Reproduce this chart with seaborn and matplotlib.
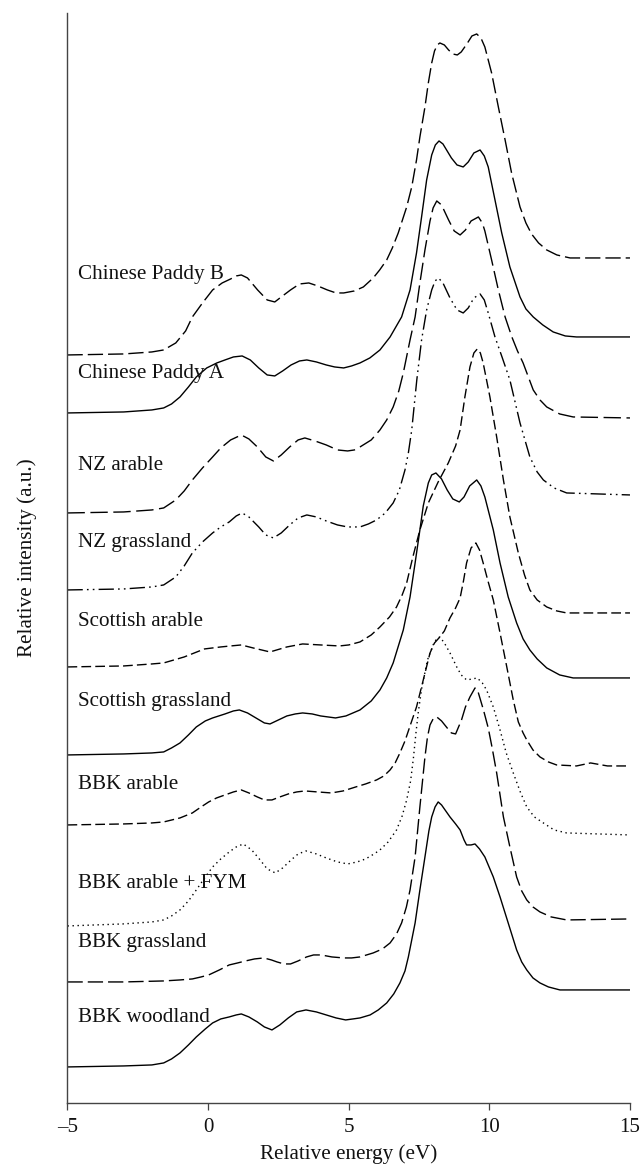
import matplotlib
matplotlib.use("Agg")
import matplotlib.pyplot as plt
import seaborn as sns

# ---------------- data ----------------
samples = ["Chinese Paddy B", "Chinese Paddy A", "NZ arable", "NZ grassland",
           "Scottish arable", "Scottish grassland", "BBK arable",
           "BBK arable + FYM", "BBK grassland", "BBK woodland"]

# label vertical positions (a.u.)
label_y = [8.28, 7.29, 6.37, 5.60, 4.81, 4.01, 3.18, 2.19, 1.60, 0.85]

# each spectrum: (relative energy eV, stacked relative intensity a.u.)
chinese_paddy_b = [
    (-5, 7.48), (-3, 7.49), (-2, 7.51), (-1.58, 7.53), (-1.15, 7.60), (-0.8, 7.72), (-0.56, 7.86),
    (-0.2, 8.00), (0.16, 8.13), (0.5, 8.20), (0.8, 8.24), (1.0, 8.27), (1.18, 8.28), (1.4, 8.25),
    (1.76, 8.13), (2.1, 8.03), (2.37, 8.01), (2.6, 8.06), (2.93, 8.13), (3.25, 8.19), (3.58, 8.20),
    (3.9, 8.17), (4.24, 8.13), (4.55, 8.10), (4.82, 8.10), (5.2, 8.12), (5.52, 8.16), (5.87, 8.25),
    (6.1, 8.33), (6.35, 8.43), (6.55, 8.55), (6.76, 8.70), (7.06, 8.96), (7.24, 9.16), (7.41, 9.43),
    (7.53, 9.66), (7.71, 9.96), (7.83, 10.20), (7.95, 10.40), (8.05, 10.52), (8.15, 10.58),
    (8.24, 10.60), (8.4, 10.58), (8.55, 10.53), (8.7, 10.49), (8.86, 10.48), (9.0, 10.51),
    (9.2, 10.59), (9.38, 10.67), (9.55, 10.69), (9.7, 10.65), (9.84, 10.56), (10.08, 10.30),
    (10.32, 9.96), (10.56, 9.63), (10.79, 9.30), (11.09, 8.96), (11.3, 8.80), (11.5, 8.69),
    (11.75, 8.60), (12.04, 8.53), (12.4, 8.48), (12.87, 8.45), (15, 8.45)]

chinese_paddy_a = [
    (-5, 6.90), (-3, 6.91), (-2, 6.93), (-1.58, 6.95), (-1.3, 6.99), (-1.0, 7.06), (-0.7, 7.16),
    (-0.42, 7.26), (-0.05, 7.35), (0.31, 7.40), (0.6, 7.43), (0.9, 7.46), (1.21, 7.47), (1.5, 7.43),
    (1.8, 7.35), (2.1, 7.28), (2.37, 7.27), (2.65, 7.32), (2.95, 7.38), (3.25, 7.42), (3.51, 7.43),
    (3.85, 7.41), (4.2, 7.38), (4.5, 7.36), (4.82, 7.35), (5.1, 7.37), (5.40, 7.40), (5.75, 7.45),
    (6.11, 7.53), (6.47, 7.66), (6.88, 7.86), (7.18, 8.13), (7.41, 8.50), (7.59, 8.86), (7.77, 9.23),
    (7.95, 9.48), (8.08, 9.58), (8.21, 9.62), (8.35, 9.59), (8.5, 9.52), (8.65, 9.45), (8.85, 9.38),
    (9.07, 9.36), (9.25, 9.41), (9.45, 9.50), (9.67, 9.53), (9.82, 9.47), (9.96, 9.36), (10.2, 9.03),
    (10.44, 8.70), (10.73, 8.36), (11.09, 8.06), (11.3, 7.94), (11.56, 7.86), (11.9, 7.78),
    (12.27, 7.71), (12.7, 7.67), (13.1, 7.66), (15, 7.66)]

nz_arable = [
    (-5, 5.90), (-3, 5.91), (-2, 5.93), (-1.58, 5.95), (-1.15, 6.03), (-0.85, 6.12), (-0.56, 6.23),
    (-0.2, 6.35), (0.16, 6.46), (0.45, 6.55), (0.8, 6.63), (1.18, 6.68), (1.45, 6.64), (1.75, 6.56),
    (2.05, 6.46), (2.32, 6.42), (2.6, 6.48), (2.9, 6.56), (3.2, 6.63), (3.44, 6.65), (3.8, 6.62),
    (4.2, 6.58), (4.6, 6.53), (4.96, 6.52), (5.2, 6.53), (5.40, 6.56), (5.8, 6.63), (6.11, 6.73),
    (6.35, 6.83), (6.58, 6.96), (6.78, 7.12), (6.94, 7.30), (7.18, 7.63), (7.36, 7.86), (7.53, 8.20),
    (7.71, 8.53), (7.89, 8.82), (8.0, 8.95), (8.13, 9.02), (8.3, 8.98), (8.55, 8.83), (8.75, 8.72),
    (8.96, 8.68), (9.15, 8.73), (9.35, 8.82), (9.61, 8.86), (9.75, 8.80), (9.84, 8.72), (10.08, 8.43),
    (10.32, 8.13), (10.56, 7.86), (10.8, 7.66), (11.0, 7.52), (11.2, 7.40), (11.56, 7.13),
    (11.8, 7.03), (12.04, 6.96), (12.5, 6.89), (12.98, 6.86), (15, 6.85)]

nz_grassland = [
    (-5, 5.13), (-3, 5.14), (-2, 5.16), (-1.58, 5.18), (-1.15, 5.26), (-0.85, 5.37), (-0.56, 5.50),
    (-0.2, 5.61), (0.16, 5.70), (0.45, 5.76), (0.75, 5.81), (1.0, 5.87), (1.21, 5.90), (1.45, 5.86),
    (1.8, 5.76), (2.05, 5.68), (2.32, 5.65), (2.6, 5.70), (2.9, 5.78), (3.2, 5.85), (3.51, 5.88),
    (3.85, 5.86), (4.2, 5.82), (4.6, 5.78), (4.96, 5.76), (5.40, 5.76), (5.7, 5.79), (5.99, 5.83),
    (6.3, 5.90), (6.58, 6.00), (6.8, 6.13), (7.0, 6.33), (7.12, 6.50), (7.24, 6.73), (7.42, 7.23),
    (7.59, 7.63), (7.77, 7.93), (7.95, 8.13), (8.07, 8.22), (8.19, 8.25), (8.35, 8.20), (8.6, 8.05),
    (8.85, 7.93), (9.07, 7.90), (9.25, 7.95), (9.45, 8.05), (9.67, 8.09), (9.82, 8.03), (9.96, 7.90),
    (10.2, 7.66), (10.45, 7.46), (10.73, 7.23), (11.09, 6.80), (11.44, 6.46), (11.7, 6.31),
    (11.92, 6.23), (12.3, 6.15), (12.75, 6.10), (15, 6.08)]

scottish_arable = [
    (-5, 4.36), (-3, 4.37), (-2, 4.39), (-1.58, 4.40), (-0.85, 4.46), (-0.13, 4.54), (0.45, 4.56),
    (0.8, 4.57), (1.18, 4.58), (1.6, 4.55), (2.2, 4.51), (2.8, 4.56), (3.36, 4.59), (4.0, 4.58),
    (4.67, 4.57), (5.0, 4.58), (5.40, 4.61), (5.8, 4.68), (6.11, 4.76), (6.45, 4.86), (6.70, 4.96),
    (6.9, 5.08), (7.06, 5.20), (7.28, 5.46), (7.53, 5.73), (7.83, 6.00), (8.18, 6.21), (8.54, 6.40),
    (8.8, 6.57), (8.96, 6.73), (9.13, 7.06), (9.31, 7.36), (9.45, 7.50), (9.57, 7.54), (9.68, 7.50),
    (9.78, 7.40), (10.02, 7.06), (10.26, 6.66), (10.50, 6.23), (10.73, 5.86), (11.03, 5.50),
    (11.25, 5.28), (11.44, 5.13), (11.7, 5.03), (12.04, 4.96), (12.4, 4.92), (12.75, 4.90), (15, 4.90)]

scottish_grassland = [
    (-5, 3.48), (-3, 3.49), (-2, 3.50), (-1.58, 3.51), (-1.3, 3.55), (-1.0, 3.60), (-0.7, 3.68),
    (-0.42, 3.76), (-0.1, 3.82), (0.16, 3.85), (0.6, 3.89), (0.9, 3.92), (1.11, 3.93), (1.4, 3.90),
    (1.7, 3.85), (2.0, 3.80), (2.2, 3.79), (2.5, 3.83), (2.8, 3.87), (3.1, 3.89), (3.36, 3.90),
    (3.7, 3.89), (4.0, 3.87), (4.53, 3.85), (4.9, 3.87), (5.40, 3.93), (5.8, 4.02), (6.11, 4.13),
    (6.35, 4.25), (6.58, 4.40), (6.94, 4.73), (7.18, 5.06), (7.36, 5.40), (7.53, 5.73), (7.65, 5.97),
    (7.83, 6.20), (7.95, 6.28), (8.10, 6.30), (8.3, 6.24), (8.5, 6.13), (8.7, 6.04), (8.93, 6.01),
    (9.1, 6.06), (9.3, 6.17), (9.55, 6.23), (9.7, 6.17), (9.84, 6.06), (10.14, 5.73), (10.38, 5.40),
    (10.67, 5.06), (10.97, 4.80), (11.2, 4.64), (11.44, 4.53), (11.7, 4.44), (12.04, 4.35),
    (12.5, 4.28), (12.98, 4.25), (15, 4.25)]

bbk_arable = [
    (-5, 2.78), (-3, 2.79), (-2, 2.80), (-1.58, 2.81), (-1.0, 2.85), (-0.56, 2.90), (-0.25, 2.96),
    (0.02, 3.01), (0.3, 3.05), (0.6, 3.08), (0.9, 3.11), (1.18, 3.13), (1.45, 3.10), (1.75, 3.06),
    (2.0, 3.03), (2.27, 3.03), (2.55, 3.06), (2.85, 3.09), (3.15, 3.11), (3.44, 3.12), (3.9, 3.11),
    (4.38, 3.10), (4.8, 3.12), (5.25, 3.16), (5.6, 3.19), (5.99, 3.23), (6.25, 3.27), (6.47, 3.33),
    (6.65, 3.40), (6.82, 3.50), (7.0, 3.62), (7.18, 3.77), (7.41, 3.96), (7.65, 4.23), (7.89, 4.50),
    (8.05, 4.60), (8.24, 4.66), (8.4, 4.72), (8.6, 4.85), (8.8, 4.95), (8.96, 5.05), (9.08, 5.22),
    (9.19, 5.40), (9.35, 5.55), (9.52, 5.60), (9.65, 5.53), (9.78, 5.40), (9.95, 5.22), (10.14, 5.03),
    (10.38, 4.70), (10.62, 4.36), (10.85, 4.03), (11.03, 3.81), (11.2, 3.70), (11.33, 3.63),
    (11.55, 3.53), (11.8, 3.46), (12.1, 3.41), (12.39, 3.38), (13.1, 3.37), (13.6, 3.40),
    (14.2, 3.37), (15, 3.37)]

bbk_arable_fym = [
    (-5, 1.77), (-3.04, 1.79), (-2, 1.81), (-1.58, 1.83), (-1.3, 1.87), (-1.0, 1.93), (-0.7, 2.02),
    (-0.42, 2.13), (-0.1, 2.26), (0.16, 2.36), (0.45, 2.44), (0.75, 2.51), (1.0, 2.56), (1.25, 2.59),
    (1.55, 2.53), (1.85, 2.43), (2.1, 2.34), (2.39, 2.30), (2.65, 2.35), (2.95, 2.43), (3.2, 2.49),
    (3.48, 2.52), (3.85, 2.49), (4.2, 2.45), (4.6, 2.41), (4.96, 2.39), (5.3, 2.41), (5.6, 2.44),
    (5.9, 2.49), (6.11, 2.53), (6.4, 2.61), (6.70, 2.73), (6.9, 2.87), (7.06, 3.03), (7.2, 3.22),
    (7.30, 3.45), (7.39, 3.70), (7.47, 3.90), (7.59, 4.14), (7.8, 4.43), (8.0, 4.58), (8.12, 4.64),
    (8.24, 4.66), (8.4, 4.60), (8.6, 4.50), (8.84, 4.36), (9.0, 4.28), (9.19, 4.23), (9.4, 4.24),
    (9.57, 4.25), (9.75, 4.20), (9.9, 4.13), (10.14, 3.96), (10.38, 3.73), (10.6, 3.50),
    (10.85, 3.30), (11.1, 3.11), (11.33, 2.96), (11.6, 2.86), (11.92, 2.80), (12.3, 2.73),
    (12.75, 2.70), (15, 2.68)]

bbk_grassland = [
    (-5, 1.21), (-3, 1.21), (-1.58, 1.22), (-1.0, 1.23), (-0.56, 1.24), (-0.25, 1.26), (0.02, 1.28),
    (0.4, 1.33), (0.75, 1.38), (1.05, 1.40), (1.33, 1.42), (1.65, 1.44), (1.98, 1.45), (2.25, 1.43),
    (2.45, 1.41), (2.7, 1.39), (2.93, 1.39), (3.2, 1.42), (3.5, 1.46), (3.75, 1.48), (4.02, 1.48),
    (4.4, 1.46), (4.82, 1.45), (5.1, 1.45), (5.4, 1.46), (5.87, 1.50), (6.2, 1.54), (6.47, 1.60),
    (6.7, 1.69), (6.88, 1.80), (7.05, 1.96), (7.18, 2.13), (7.36, 2.46), (7.53, 2.96), (7.71, 3.46),
    (7.8, 3.66), (7.89, 3.78), (8.0, 3.84), (8.13, 3.86), (8.3, 3.82), (8.5, 3.75), (8.65, 3.70),
    (8.8, 3.69), (9.01, 3.83), (9.15, 3.96), (9.31, 4.06), (9.49, 4.15), (9.6, 4.11), (9.79, 3.93),
    (9.96, 3.75), (10.1, 3.55), (10.26, 3.30), (10.50, 2.86), (10.73, 2.56), (10.97, 2.26),
    (11.15, 2.12), (11.33, 2.03), (11.55, 1.96), (11.8, 1.91), (12.2, 1.86), (12.75, 1.83), (15, 1.84)]

bbk_woodland = [
    (-5, 0.36), (-3, 0.37), (-2, 0.38), (-1.58, 0.40), (-1.3, 0.44), (-1.0, 0.50), (-0.7, 0.58),
    (-0.42, 0.66), (-0.1, 0.74), (0.16, 0.80), (0.45, 0.84), (0.75, 0.86), (1.0, 0.88), (1.18, 0.89),
    (1.45, 0.86), (1.75, 0.81), (2.0, 0.76), (2.27, 0.73), (2.55, 0.78), (2.85, 0.85), (3.15, 0.91),
    (3.48, 0.93), (3.85, 0.91), (4.2, 0.88), (4.55, 0.85), (4.89, 0.83), (5.15, 0.84), (5.4, 0.85),
    (5.76, 0.88), (6.05, 0.93), (6.35, 1.00), (6.6, 1.09), (6.82, 1.20), (7.0, 1.32), (7.12, 1.46),
    (7.36, 1.80), (7.53, 2.13), (7.71, 2.46), (7.85, 2.72), (7.95, 2.86), (8.07, 2.96), (8.18, 3.01),
    (8.3, 2.98), (8.45, 2.92), (8.6, 2.86), (8.8, 2.79), (8.96, 2.73), (9.1, 2.63), (9.19, 2.58),
    (9.35, 2.58), (9.49, 2.59), (9.65, 2.54), (9.84, 2.46), (10.14, 2.26), (10.38, 2.06),
    (10.67, 1.80), (10.97, 1.53), (11.15, 1.41), (11.33, 1.33), (11.55, 1.25), (11.8, 1.20),
    (12.1, 1.16), (12.51, 1.13), (15, 1.13)]

xtick_values = [-5, 0, 5, 10, 15]
xtick_labels = ["\u20135", "0", "5", "10", "15"]

# ---------------- styling ----------------
spectra = [chinese_paddy_b, chinese_paddy_a, nz_arable, nz_grassland, scottish_arable,
           scottish_grassland, bbk_arable, bbk_arable_fym, bbk_grassland, bbk_woodland]

long_dash = (0, (11, 3.6))
nz_long = (0, (12.5, 4))
dash = (0, (7, 3))
solid = "-"
dash_dot_dot = (0, (11, 3, 1.2, 3, 1.2, 3))
dotted = (0, (1, 2.6))
line_styles = [long_dash, solid, nz_long, dash_dot_dot, dash, solid, dash, dotted, long_dash, solid]

sns.set_theme(style="white")
plt.rcParams["font.family"] = ["Liberation Serif", "DejaVu Serif"]
plt.rcParams["text.color"] = "#111111"

fig = plt.figure(figsize=(6.41, 11.68), dpi=100)
ax = fig.add_axes([0.1053, 0.0557, 0.8775, 0.9332])

for spec, ls in zip(spectra, line_styles):
    xs = [p[0] for p in spec]
    ys = [p[1] for p in spec]
    sns.lineplot(x=xs, y=ys, ax=ax, color="black", lw=1.0, linestyle=ls,
                 sort=False, estimator=None, solid_joinstyle="round",
                 dash_joinstyle="round")

for name, ly in zip(samples, label_y):
    ax.text(-4.63, ly, name, ha="left", va="center", fontsize=15.2, color="#111111")

ax.set_xlim(-5, 15)
ax.set_ylim(0, 10.9)
ax.set_xticks(xtick_values)
ax.set_xticklabels(xtick_labels, fontsize=15, color="#111111")
ax.set_yticks([])
for side in ["top", "right"]:
    ax.spines[side].set_visible(False)
for side in ["left", "bottom"]:
    ax.spines[side].set_color("#444444")
    ax.spines[side].set_linewidth(1.0)
ax.tick_params(axis="x", bottom=True, direction="out", length=5, width=0.9,
               color="#444444", pad=6)
ax.set_xlabel("Relative energy (eV)", fontsize=15.2, labelpad=5, color="#111111")
ax.set_ylabel("Relative intensity (a.u.)", fontsize=15.2, labelpad=22, color="#111111")

fig.savefig("out.png", dpi=100)
